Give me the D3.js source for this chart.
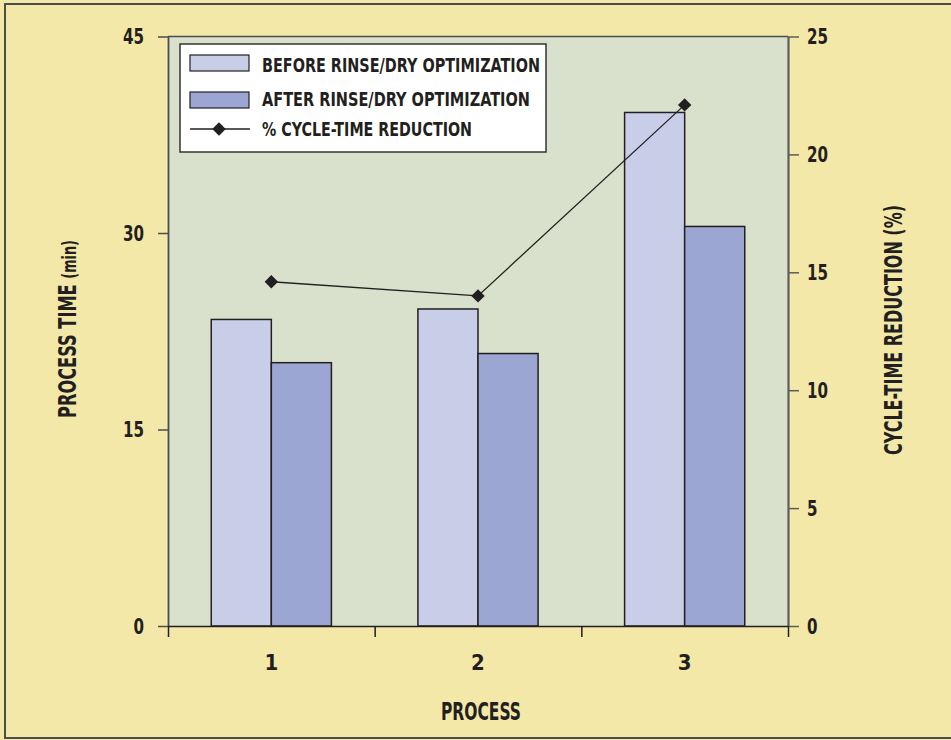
<!DOCTYPE html>
<html>
<head>
<meta charset="utf-8">
<script src="https://cdn.jsdelivr.net/npm/d3@7"></script>
<style>
  html, body { margin: 0; padding: 0; background: #f3e8a8; }
  svg { display: block; }
  text { font-family: "Liberation Sans Narrow", "DejaVu Sans Condensed", "Roboto Condensed", sans-serif; font-weight: bold; fill: #231f20; }
</style>
</head>
<body>
<svg id="chart" width="951" height="740"></svg>
<script>
// Process times before/after rinse-dry optimization and the resulting cycle-time reduction
const processes = ["1", "2", "3"];
const beforeMinutes = [23.4, 24.2, 39.2];
const afterMinutes = [20.1, 20.8, 30.5];
const reductionPercent = [14.6, 14.0, 22.1];
const leftTicks = [0, 15, 30, 45];
const rightTicks = [0, 5, 10, 15, 20, 25];
const seriesNames = ["BEFORE RINSE/DRY OPTIMIZATION", "AFTER RINSE/DRY OPTIMIZATION", "% CYCLE-TIME REDUCTION"];

const colors = { page: "#f3e8a8", plot: "#d9e1cd", before: "#c9cee8", after: "#9ba6d3", ink: "#231f20" };

const svg = d3.select("#chart");
const plot = { left: 168, right: 788, top: 36.5, bottom: 626 };

// page frame
svg.append("rect").attr("x", 5).attr("y", 4).attr("width", 990).attr("height", 734)
  .attr("fill", colors.page).attr("stroke", "#4d4d4d").attr("stroke-width", 2);

// scales
const x = d3.scaleBand().domain(processes).range([plot.left, plot.right]).padding(0);
const xSeries = d3.scaleBand().domain(["before", "after"]).range([0, x.bandwidth()]).paddingInner(0).paddingOuter(0.72);
const yLeft = d3.scaleLinear().domain([0, 45]).range([plot.bottom, plot.top]);
const yRight = d3.scaleLinear().domain([0, 25]).range([plot.bottom, plot.top]);
const xEdges = d3.scaleLinear().domain([0, processes.length]).range([plot.left, plot.right]);

// plot background
svg.append("rect").attr("x", plot.left).attr("y", plot.top)
  .attr("width", plot.right - plot.left).attr("height", plot.bottom - plot.top)
  .attr("fill", colors.plot);
svg.append("line").attr("x1", plot.left).attr("x2", plot.right)
  .attr("y1", plot.top).attr("y2", plot.top).attr("stroke", "#4d4d4d").attr("stroke-width", 1.5);

// bars
const rows = processes.map((p, i) => ({ p, before: beforeMinutes[i], after: afterMinutes[i] }));
const groups = svg.append("g").selectAll("g").data(rows).join("g")
  .attr("transform", d => `translate(${x(d.p)},0)`);
groups.selectAll("rect").data(d => [
    { key: "before", v: d.before },
    { key: "after", v: d.after }
  ]).join("rect")
  .attr("x", d => xSeries(d.key))
  .attr("width", xSeries.bandwidth())
  .attr("y", d => yLeft(d.v))
  .attr("height", d => yLeft(0) - yLeft(d.v))
  .attr("fill", d => colors[d.key])
  .attr("stroke", colors.ink).attr("stroke-width", 1.5);

// axes
const axisStyle = (g, color, width) => {
  g.select(".domain").attr("stroke", color).attr("stroke-width", width);
  g.selectAll(".tick line").attr("stroke", color).attr("stroke-width", 1.5);
  g.selectAll(".tick text").style("font-size", "22px").attr("fill", colors.ink)
    .attr("textLength", d => String(d).length * 10.5).attr("lengthAdjust", "spacingAndGlyphs");
};

svg.append("g").attr("transform", `translate(${plot.left},0)`)
  .call(d3.axisLeft(yLeft).tickValues(leftTicks).tickSize(10).tickPadding(14).tickSizeOuter(0))
  .call(g => axisStyle(g, "#4d4d4d", 1.8));

svg.append("g").attr("transform", `translate(${plot.right},0)`)
  .call(d3.axisRight(yRight).tickValues(rightTicks).tickSize(11).tickPadding(8).tickSizeOuter(0))
  .call(g => axisStyle(g, "#5c5c5c", 2.2));

svg.append("g").attr("transform", `translate(0,${plot.bottom})`)
  .call(d3.axisBottom(xEdges).tickValues(d3.range(processes.length + 1)).tickFormat("").tickSize(11).tickSizeOuter(0))
  .call(g => { g.select(".domain").attr("stroke", colors.ink).attr("stroke-width", 1.6);
               g.selectAll(".tick line").attr("stroke", colors.ink).attr("stroke-width", 1.5); });

svg.append("g").attr("transform", `translate(0,${plot.bottom})`)
  .call(d3.axisBottom(x).tickSize(0).tickPadding(28))
  .call(g => { g.select(".domain").remove();
               g.selectAll(".tick text").style("font-size", "22px").attr("fill", colors.ink); });

// reduction line
const pts = processes.map((p, i) => [x(p) + x.bandwidth() / 2, yRight(reductionPercent[i])]);
svg.append("path").attr("d", d3.line()(pts)).attr("fill", "none")
  .attr("stroke", colors.ink).attr("stroke-width", 1.3);
const diamond = d3.symbol().type(d3.symbolDiamond2).size(115);
svg.append("g").selectAll("path").data(pts).join("path")
  .attr("transform", d => `translate(${d[0]},${d[1]})`)
  .attr("d", diamond).attr("fill", colors.ink);

// axis titles
svg.append("text").attr("transform", "translate(76,329) rotate(-90)")
  .attr("text-anchor", "middle").style("font-size", "24px")
  .attr("textLength", 178).attr("lengthAdjust", "spacingAndGlyphs")
  .call(t => { t.append("tspan").text("PROCESS TIME "); t.append("tspan").style("font-size", "19px").text("(min)"); });
svg.append("text").attr("transform", "translate(902,330) rotate(-90)")
  .attr("text-anchor", "middle").style("font-size", "24px")
  .attr("textLength", 250).attr("lengthAdjust", "spacingAndGlyphs").text("CYCLE-TIME REDUCTION (%)");
svg.append("text").attr("x", 481).attr("y", 720).attr("text-anchor", "middle")
  .style("font-size", "24px").attr("textLength", 80).attr("lengthAdjust", "spacingAndGlyphs").text("PROCESS");

// legend
const legend = svg.append("g");
legend.append("rect").attr("x", 180).attr("y", 44).attr("width", 366).attr("height", 108)
  .attr("fill", "#ffffff").attr("stroke", "#333").attr("stroke-width", 1.5);
legend.append("rect").attr("x", 190).attr("y", 55).attr("width", 59).attr("height", 16)
  .attr("fill", colors.before).attr("stroke", colors.ink).attr("stroke-width", 1.2);
legend.append("rect").attr("x", 190).attr("y", 92).attr("width", 59).attr("height", 16)
  .attr("fill", colors.after).attr("stroke", colors.ink).attr("stroke-width", 1.2);
legend.append("line").attr("x1", 190).attr("x2", 250).attr("y1", 129).attr("y2", 129)
  .attr("stroke", colors.ink).attr("stroke-width", 1.3);
legend.append("path").attr("transform", "translate(219,129)").attr("d", diamond).attr("fill", colors.ink);
const legendY = [72, 106, 136];
const legendW = [278, 268, 210];
seriesNames.forEach((name, i) => {
  legend.append("text").attr("x", 262).attr("y", legendY[i]).style("font-size", "20px")
    .attr("textLength", legendW[i]).attr("lengthAdjust", "spacingAndGlyphs").text(name);
});
</script>
</body>
</html>
